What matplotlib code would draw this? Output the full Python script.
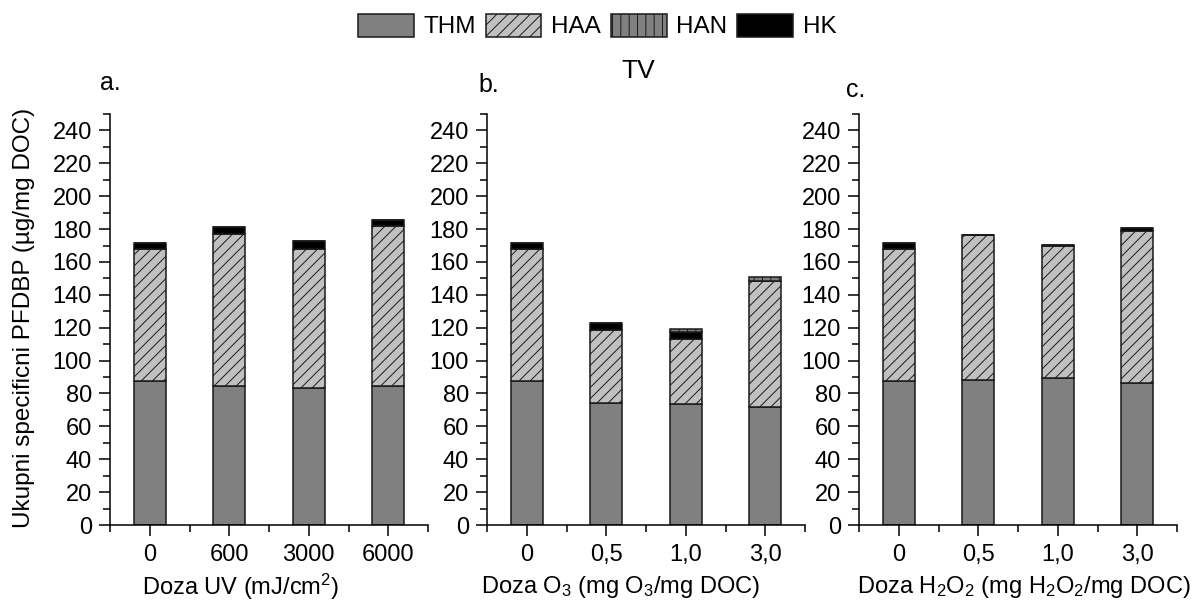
import matplotlib
matplotlib.use("Agg")
import matplotlib.pyplot as plt
from matplotlib.ticker import MultipleLocator, FixedLocator
import numpy as np

plt.rcParams['font.family'] = ['Liberation Sans', 'DejaVu Sans']
plt.rcParams['mathtext.fontset'] = 'custom'
plt.rcParams['mathtext.rm'] = 'Liberation Sans'
plt.rcParams['mathtext.it'] = 'Liberation Sans:italic'
plt.rcParams['mathtext.bf'] = 'Liberation Sans:bold'
plt.rcParams['hatch.linewidth'] = 0.7

# Categories (doses) for each treatment
categories_uv = ['0', '600', '3000', '6000']
categories_o3 = ['0', '0,5', '1,0', '3,0']
categories_h2o2 = ['0', '0,5', '1,0', '3,0']

# Specific DBP formation (µg/mg DOC) per class
thm_uv = [87.5, 84.5, 83.5, 84.5]
haa_uv = [80.5, 92.5, 84.5, 97.5]
han_uv = [0.0, 0.0, 0.0, 0.0]
hk_uv = [3.5, 4.5, 4.5, 3.5]

thm_o3 = [87.5, 74.5, 73.5, 71.5]
haa_o3 = [80.5, 44.0, 39.5, 77.0]
han_o3 = [0.0, 0.0, 2.0, 2.5]
hk_o3 = [3.5, 4.5, 4.5, 0.0]

thm_h2o2 = [87.5, 88.5, 89.5, 86.5]
haa_h2o2 = [80.5, 88.0, 80.0, 92.5]
han_h2o2 = [0.0, 0.0, 0.0, 0.0]
hk_h2o2 = [3.5, 0.0, 0.6, 1.5]

panels = [
    (categories_uv, thm_uv, haa_uv, han_uv, hk_uv, 'a.', r'Doza UV (mJ/cm$^2$)'),
    (categories_o3, thm_o3, haa_o3, han_o3, hk_o3, 'b.', r'Doza O$_3$ (mg O$_3$/mg DOC)'),
    (categories_h2o2, thm_h2o2, haa_h2o2, han_h2o2, hk_h2o2, 'c.',
     r'Doza H$_2$O$_2$ (mg H$_2$O$_2$/mg DOC)'),
]

W, H = 1198, 602
fig = plt.figure(figsize=(W / 100, H / 100), dpi=100)

lefts = [110, 487, 859]
ax_w = 318
ax_bottom = 525
ax_top = 114
xlabel_x = [241, 621, 1024]
letter_x = [-10, -9, -13]
letter_y = [90, 92, 97]

edge = '#1a1a1a'
style = {
    'THM': dict(color='#808080', hatch=None),
    'HAA': dict(color='#c0c0c0', hatch='///'),
    'HAN': dict(color='#808080', hatch='||'),
    'HK': dict(color='#000000', hatch=None),
}

handles = {}
for i, (cats, thm, haa, han, hk, letter, xlab) in enumerate(panels):
    ax = fig.add_axes([lefts[i] / W, (H - ax_bottom) / H, ax_w / W, (ax_bottom - ax_top) / H])
    x = np.arange(len(cats))
    bw = 0.4
    bottom = np.zeros(len(cats))
    for name, vals in [('THM', thm), ('HAA', haa), ('HK', hk), ('HAN', han)]:
        vals = np.array(vals)
        b = ax.bar(x, vals, bw, bottom=bottom, color=style[name]['color'],
                   hatch=style[name]['hatch'], edgecolor=edge, linewidth=1.1,
                   label=name, zorder=2)
        bottom = bottom + vals
        if i == 0:
            handles[name] = b
    ax.set_xlim(-0.5, len(cats) - 0.5)
    ax.set_ylim(0, 250)
    ax.set_xticks(x)
    ax.set_xticklabels(cats)
    ax.xaxis.set_minor_locator(FixedLocator(np.arange(-0.5, len(cats), 1.0)))
    ax.yaxis.set_major_locator(FixedLocator(np.arange(0, 241, 20)))
    ax.yaxis.set_minor_locator(MultipleLocator(10))
    for s in ['top', 'right']:
        ax.spines[s].set_visible(False)
    for s in ['left', 'bottom']:
        ax.spines[s].set_linewidth(1.1)
    ax.tick_params(which='major', direction='out', length=8, width=1.1,
                   labelsize=17, pad=6)
    ax.tick_params(which='minor', direction='out', length=5, width=1.1)
    ax.tick_params(axis='y', which='major', pad=5)
    fig.text((lefts[i] + letter_x[i]) / W, 1 - letter_y[i] / H, letter,
             fontsize=18, ha='left', va='baseline')
    fig.text(xlabel_x[i] / W, 1 - 587 / H, xlab, fontsize=17,
             ha='center', va='center')

fig.text(24 / W, 1 - 318 / H, 'Ukupni specificni PFDBP (µg/mg DOC)',
         rotation=90, fontsize=17.5, ha='center', va='center')
fig.text(638 / W, 1 - 78 / H, 'TV', fontsize=19, ha='center', va='baseline')

order = ['THM', 'HAA', 'HAN', 'HK']
fig.legend([handles[k] for k in order], order, loc='center',
           bbox_to_anchor=(597 / W, 1 - 26 / H), ncol=4, frameon=False,
           fontsize=17.5, handlelength=2.3, handleheight=1.1,
           handletextpad=0.4, columnspacing=0.4, borderaxespad=0)

fig.savefig('out.png', dpi=100)
